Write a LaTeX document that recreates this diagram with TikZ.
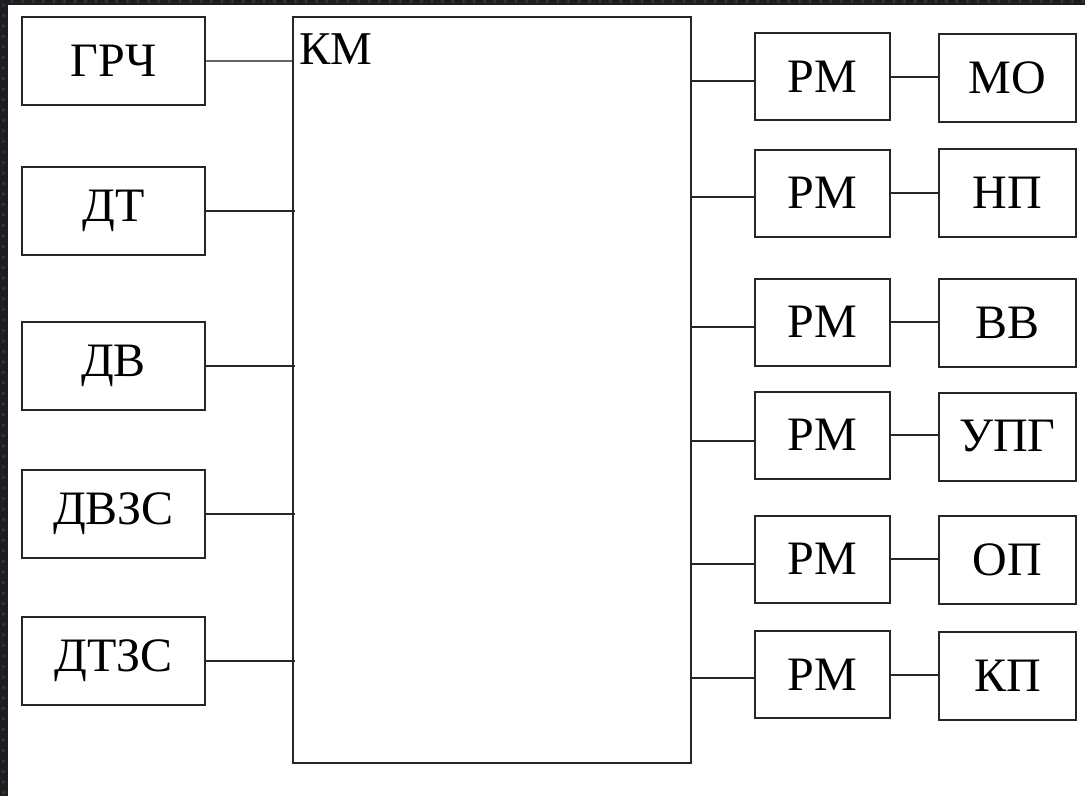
\documentclass[tikz,border=0pt]{standalone}
\usepackage{fontspec}
\setmainfont{Liberation Serif}
\definecolor{framedark}{HTML}{1C1C21}
\definecolor{framedot}{HTML}{34343A}
\begin{document}
\begin{tikzpicture}[x=1pt,y=-1pt,
  line/.style={draw=black!85,line width=2pt},
  blk/.style={draw=black!85,line width=2pt,fill=white,inner sep=0pt,
    font=\fontsize{48}{52}\selectfont},
  lbox/.style={blk,minimum width=183pt,minimum height=88pt},
  rmbox/.style={blk,minimum width=135pt,minimum height=87pt},
  obox/.style={blk,minimum width=137pt,minimum height=88pt}]
% page and dark frame strips
\fill[white] (0,0) rectangle (1085,796);
\useasboundingbox (0,0) rectangle (1085,796);
\fill[framedark] (0,0) rectangle (8,796);
\fill[framedark] (0,0) rectangle (1085,5);
\foreach \k in {0,...,75} {\fill[framedot] (3.5,5+10.5*\k) circle (1.8pt);}
\foreach \k in {0,...,103} {\fill[framedot] (12+10.5*\k,1.5) circle (1.8pt);}

% control module
\node[draw=black!85,line width=2pt,minimum width=398pt,minimum height=746pt,inner sep=0pt]
  (km) at (492,390) {};
\node[anchor=north west,inner sep=0pt,font=\fontsize{47}{50}\selectfont] (kml) at (299,34) {КМ};

% sensors on the left
\node[lbox] (grch) at (113.5,61) {ГРЧ};
\node[lbox] (dt)   at (113.5,210.5) {ДТ};
\node[lbox] (dv)   at (113.5,366) {ДВ};
\node[lbox] (dvzs) at (113.5,513.5) {ДВЗС};
\node[lbox] (dtzs) at (113.5,661) {ДТЗС};

\draw[line,draw=black!60] (grch.east) -- (grch.east -| km.west);
\foreach \n in {dt,dv,dvzs,dtzs}
  \draw[line] (\n.east) -- ([xshift=3pt]\n.east -| km.west);

% actuators on the right
\node[rmbox] (rm1) at (822.5,76.5) {РМ};
\node[rmbox] (rm2) at (822.5,193) {РМ};
\node[rmbox] (rm3) at (822.5,322) {РМ};
\node[rmbox] (rm4) at (822.5,435) {РМ};
\node[rmbox] (rm5) at (822.5,559) {РМ};
\node[rmbox] (rm6) at (822.5,674.5) {РМ};

\node[obox] (mo)  at (1007.5,77.5) {МО};
\node[obox] (np)  at (1007.5,193) {НП};
\node[obox] (vv)  at (1007.5,323) {ВВ};
\node[obox] (upg) at (1007.5,436.5) {УПГ};
\node[obox] (op)  at (1007.5,560) {ОП};
\node[obox] (kp)  at (1007.5,675.5) {КП};

\foreach \r/\o/\d in {rm1/mo/4.5,rm2/np/4,rm3/vv/5,rm4/upg/6,rm5/op/5,rm6/kp/3.5} {
  \draw[line] ([yshift=-\d pt]\r.west -| km.east) -- ([yshift=-\d pt]\r.west);
  \draw[line] (\r.east) -- (\r.east -| \o.west);
}
\end{tikzpicture}
\end{document}
